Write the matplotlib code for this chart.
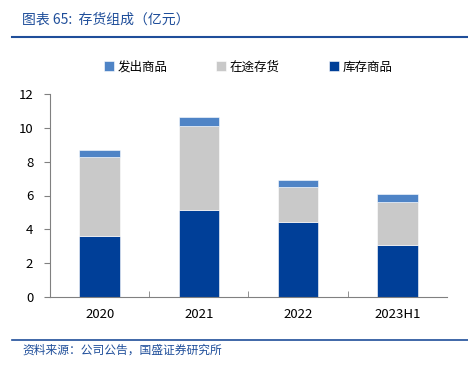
import matplotlib.pyplot as plt
import numpy as np

plt.rcParams['font.family'] = ['Noto Sans CJK SC', 'DejaVu Sans']

# data (亿元)
years = ['2020', '2021', '2022', '2023H1']
stock_goods = [3.63, 5.13, 4.42, 3.08]     # 库存商品
in_transit = [4.62, 5.00, 2.07, 2.54]      # 在途存货
shipped_goods = [0.42, 0.50, 0.45, 0.46]   # 发出商品

c_dark = '#003F98'
c_gray = '#C9C9C9'
c_light = '#4F84C6'
c_title = '#1F4E9A'

fig = plt.figure(figsize=(4.68, 3.75), dpi=100)
ax = fig.add_axes([50 / 468, 78 / 375, 397 / 468, 203 / 375])

x = np.arange(len(years))
w = 0.41
b1 = ax.bar(x, stock_goods, w, color=c_dark, edgecolor='white', linewidth=0.4, label='库存商品')
bottom2 = np.array(stock_goods)
b2 = ax.bar(x, in_transit, w, bottom=bottom2, color=c_gray, edgecolor='white', linewidth=0.4, label='在途存货')
bottom3 = bottom2 + np.array(in_transit)
b3 = ax.bar(x, shipped_goods, w, bottom=bottom3, color=c_light, edgecolor='white', linewidth=0.4, label='发出商品')

ax.set_xlim(-0.5, len(years) - 0.5)
ax.set_ylim(0, 12)
ax.set_yticks(range(0, 13, 2))
ax.set_xticks(x)
ax.set_xticklabels(years)
ax.set_xticks(np.arange(0.5, len(years) - 1, 1), minor=True)
ax.tick_params(axis='x', which='major', length=0, pad=8, labelsize=9.5)
ax.tick_params(axis='x', which='minor', length=4, direction='in', color='#808080')
ax.tick_params(axis='y', length=4, direction='out', color='#808080', labelsize=9.5, pad=8)
for s in ['top', 'right']:
    ax.spines[s].set_visible(False)
ax.spines['left'].set_color('#808080')
ax.spines['bottom'].set_color('#808080')
ax.spines['left'].set_linewidth(0.8)
ax.spines['bottom'].set_linewidth(0.8)

fig.legend([b3, b2, b1], ['发出商品', '在途存货', '库存商品'], loc='center',
           bbox_to_anchor=(248 / 468, 1 - 67 / 375), ncol=3, frameon=False,
           fontsize=9, handlelength=0.8, handleheight=0.8, handletextpad=0.3,
           columnspacing=3.9)

# title and footer
fig.text(22 / 468, 1 - 20 / 375, '图表 65:  存货组成（亿元）', color=c_title,
         fontsize=10, style='italic', va='center', ha='left')
fig.add_artist(plt.Line2D([12 / 468, 1], [1 - 37 / 375] * 2, color=c_title, lw=1.5))
fig.add_artist(plt.Line2D([12 / 468, 1], [1 - 340 / 375] * 2, color=c_title, lw=1.2))
fig.text(22 / 468, 1 - 350 / 375, '资料来源：公司公告，国盛证券研究所', color=c_title,
         fontsize=8.5, style='italic', va='center', ha='left')

fig.savefig('out.png', dpi=100)
